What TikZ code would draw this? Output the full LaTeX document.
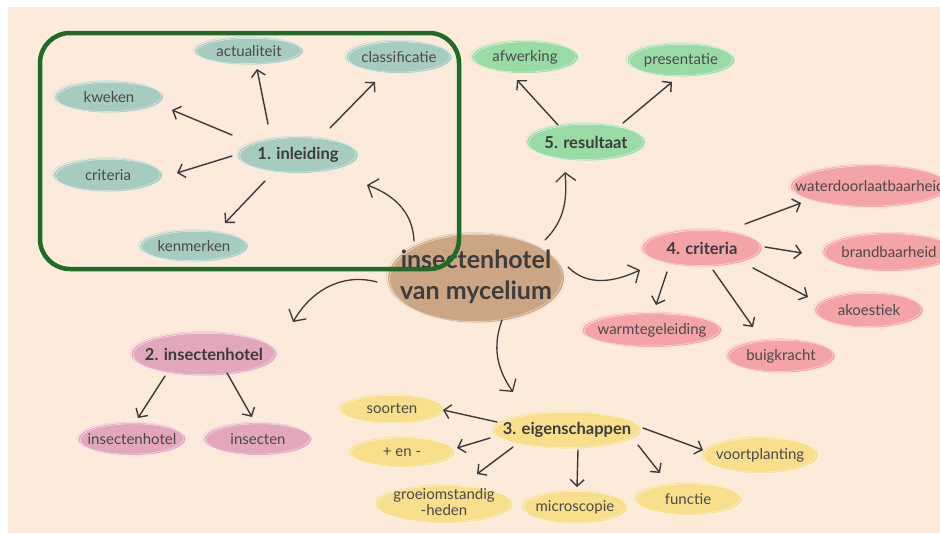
\documentclass[tikz,border=0pt]{standalone}
\usepackage{fontspec}
\setmainfont{Lato}
\usetikzlibrary{arrows.meta,shapes.geometric}
\definecolor{bg}{HTML}{FCEADB}
\definecolor{txt}{HTML}{4A4A4A}
\definecolor{txtb}{HTML}{3C3C3C}
\definecolor{arrc}{HTML}{3A3A3A}
\definecolor{cTeal}{HTML}{A6CBBF}
\definecolor{cGreen}{HTML}{99DBA4}
\definecolor{cPink}{HTML}{F4A3A6}
\definecolor{cMauve}{HTML}{E2A6BD}
\definecolor{cYellow}{HTML}{F7DF8C}
\definecolor{cBrown}{HTML}{CCA684}
\definecolor{cFrame}{HTML}{1D6B26}
\begin{document}
\begin{tikzpicture}[x=1pt,y=-1pt,
  every node/.style={inner sep=0pt},
  bub/.style={ellipse, fill=#1,
    execute at begin node={\hbox to 0pt\bgroup\hss},
    execute at end node={\hss\egroup},
    postaction={draw=white!45!#1, line width=0.7pt, transform canvas={xshift=-1.8pt,yshift=0.9pt}},
    postaction={draw=white!70!#1, line width=0.5pt, transform canvas={xshift=1.6pt,yshift=-0.8pt}}},
  leaf/.style={bub=#1, text=txt, font=\fontsize{15}{15}\selectfont},
  topic/.style={bub=#1, text=txtb, font=\bfseries\fontsize{16.5}{18}\selectfont},
  sz/.style 2 args={minimum width=#1, minimum height=#2},
  arr/.style={draw=arrc, line width=1.4pt, line cap=round,
    -{Straight Barb[length=6.5pt,width=14pt,line width=1.4pt]}},
  carr/.style={draw=arrc, line width=1.3pt, line cap=round,
    -{Straight Barb[length=8.5pt,width=20pt,line width=1.3pt]}},
  frame/.style={draw=cFrame, line width=4.5pt, rounded corners=30pt},
]
\useasboundingbox (0,0) rectangle (940,533);
\clip (0,0) rectangle (940,533);
\fill[white] (0,0) rectangle (940,533);
\fill[bg] (8,7) rectangle (940,533);

% central
\node[bub=cBrown, sz={176pt}{89pt}, text=txtb, inner ysep=-1pt,
      font=\bfseries\fontsize{25}{31}\selectfont] (cen) at (476,278)
  {\begin{tabular}{@{}c@{}}insectenhotel\\van mycelium\end{tabular}};

% 1. inleiding
\node[topic=cTeal, sz={120pt}{36pt}] (inl) at (298,155) {1. inleiding};
\node[leaf=cTeal, sz={108pt}{27pt}] (act) at (249,51) {actualiteit};
\node[leaf=cTeal, sz={105pt}{32pt}] (cla) at (399,57) {classificatie};
\node[leaf=cTeal, sz={108pt}{31pt}] (kwe) at (109,97) {kweken};
\node[leaf=cTeal, sz={108pt}{33pt}] (cri) at (108,175) {criteria};
\node[leaf=cTeal, sz={108pt}{31pt}] (ken) at (194,246) {kenmerken};

% 5. resultaat
\node[topic=cGreen, sz={118pt}{37pt}] (res) at (586,142) {5. resultaat};
\node[leaf=cGreen, sz={106pt}{32pt}] (afw) at (525,57) {afwerking};
\node[leaf=cGreen, sz={107pt}{33pt}] (pre) at (681,60) {presentatie};

% 4. criteria
\node[topic=cPink, sz={120pt}{37pt}] (crt) at (702,248) {4. criteria};
\node[leaf=cPink, sz={158pt}{42pt}] (wat) at (870,186) {waterdoorlaatbaarheid};
\node[leaf=cPink, sz={132pt}{38pt}] (bra) at (889,252) {brandbaarheid};
\node[leaf=cPink, sz={108pt}{35pt}] (ako) at (869,310) {akoestiek};
\node[leaf=cPink, sz={108pt}{33pt}] (bui) at (781,356) {buigkracht};
\node[leaf=cPink, sz={139pt}{34pt}] (war) at (652,330) {warmtegeleiding};

% 3. eigenschappen
\node[topic=cYellow, sz={148pt}{37pt}] (eig) at (567,430) {3. eigenschappen};
\node[leaf=cYellow, sz={105pt}{29pt}] (soo) at (392,409) {soorten};
\node[leaf=cYellow, sz={105pt}{30pt}] (pm) at (402,452) {+ en -};
\node[leaf=cYellow, sz={137pt}{38pt}, inner ysep=-3pt] (gro) at (444,504)
  {\begin{tabular}{@{}c@{}}groeiomstandig\\-heden\end{tabular}};
\node[leaf=cYellow, sz={105pt}{33pt}] (mic) at (575,507) {microscopie};
\node[leaf=cYellow, sz={107pt}{32pt}] (fun) at (688,499) {functie};
\node[leaf=cYellow, sz={116pt}{36pt}] (voo) at (760,455) {voortplanting};

% 2. insectenhotel
\node[topic=cMauve, sz={145pt}{43pt}] (ins) at (204,354) {2. insectenhotel};
\node[leaf=cMauve, sz={107pt}{32pt}] (insh) at (132,439) {insectenhotel};
\node[leaf=cMauve, sz={107pt}{32pt}] (inse) at (258,439) {insecten};

% connectors: inleiding
\draw[arr] ([shift={(-66,-20)}]inl.center) -- ([shift={(63,13)}]kwe.center);
\draw[arr] ([shift={(-30,-31)}]inl.center) -- ([shift={(8,18)}]act.center);
\draw[arr] ([shift={(32,-27)}]inl.center) -- ([shift={(-24,25)}]cla.center);
\draw[arr] ([shift={(-66,1)}]inl.center) -- ([shift={(69,-2)}]cri.center);
\draw[arr] ([shift={(-33,26)}]inl.center) -- ([shift={(31,-23)}]ken.center);
\draw[carr] ([shift={(-62,-37)}]cen.center) to[out=92,in=-20] ([shift={(69,30)}]inl.center);

% resultaat
\draw[arr] ([shift={(-28,-17)}]res.center) -- ([shift={(-8,23)}]afw.center);
\draw[arr] ([shift={(37,-19)}]res.center) -- ([shift={(-9,22)}]pre.center);
\draw[carr] ([shift={(69,-38)}]cen.center) to[out=45,in=-85] ([shift={(-21,30)}]res.center);

% criteria
\draw[arr] ([shift={(43,-24)}]crt.center) -- ([shift={(-69,17)}]wat.center);
\draw[arr] ([shift={(63,-1)}]crt.center) -- ([shift={(-87,1)}]bra.center);
\draw[arr] ([shift={(51,20)}]crt.center) -- ([shift={(-61,-13)}]ako.center);
\draw[arr] ([shift={(11,22)}]crt.center) -- ([shift={(-28,-29)}]bui.center);
\draw[arr] ([shift={(-35,24)}]crt.center) -- ([shift={(4,-25)}]war.center);
\draw[carr] ([shift={(92,-11)}]cen.center) to[out=-45,in=-155] ([shift={(-62,22)}]crt.center);

% eigenschappen
\draw[arr] ([shift={(-70,-8)}]eig.center) -- ([shift={(51,1)}]soo.center);
\draw[arr] ([shift={(-77,8)}]eig.center) -- ([shift={(55,-4)}]pm.center);
\draw[arr] ([shift={(-54,17)}]eig.center) -- ([shift={(33,-30)}]gro.center);
\draw[arr] ([shift={(11,20)}]eig.center) -- ([shift={(2,-20)}]mic.center);
\draw[arr] ([shift={(71,15)}]eig.center) -- ([shift={(-28,-26)}]fun.center);
\draw[arr] ([shift={(76,-2)}]eig.center) -- ([shift={(-57,-5)}]voo.center);
\draw[carr] ([shift={(26,42)}]cen.center) to[out=-110,in=125] ([shift={(-54,-38)}]eig.center);

% insectenhotel
\draw[arr] ([shift={(-39,22)}]ins.center) -- ([shift={(6,-21)}]insh.center);
\draw[arr] ([shift={(23,19)}]ins.center) -- ([shift={(-6,-22)}]inse.center);
\draw[carr] ([shift={(-99,4)}]cen.center) to[out=165,in=60] ([shift={(89,-32)}]ins.center);

% highlight frame
\draw[frame] (40,33) rectangle (459,269);
\end{tikzpicture}
\end{document}
